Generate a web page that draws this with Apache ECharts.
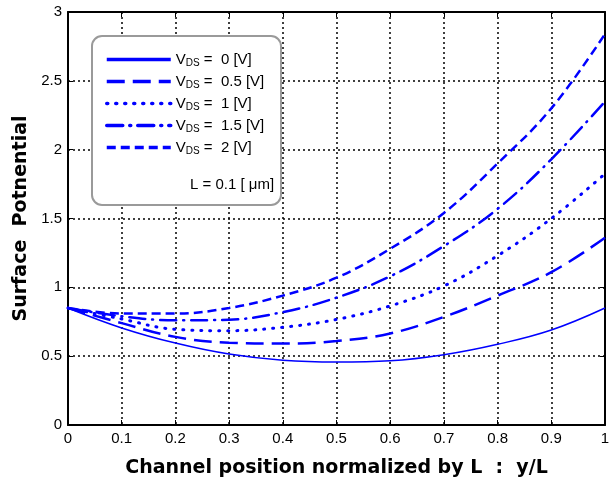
<!DOCTYPE html>
<html>
<head>
<meta charset="utf-8">
<script src="https://cdn.jsdelivr.net/npm/echarts@6/dist/echarts.min.js"></script>
<style>
  html, body { margin: 0; padding: 0; background: #fff; }
  #main { width: 615px; height: 483px; }
</style>
</head>
<body>
<div id="main"></div>
<script>
// channel position y/L
const positions = [0, 0.1, 0.2, 0.3, 0.4, 0.5, 0.6, 0.7, 0.8, 0.9, 1]
// surface potential for each VDS
const vds0 = [0.85, 0.705, 0.595, 0.515, 0.47, 0.457, 0.466, 0.51, 0.586, 0.69, 0.85]
const vds05 = [0.85, 0.74, 0.64, 0.598, 0.592, 0.61, 0.665, 0.785, 0.94, 1.11, 1.36]
const vds1 = [0.85, 0.77, 0.695, 0.685, 0.71, 0.767, 0.865, 1.01, 1.23, 1.5, 1.825]
const vds15 = [0.85, 0.79, 0.76, 0.765, 0.82, 0.925, 1.08, 1.3, 1.57, 1.93, 2.35]
const vds2 = [0.85, 0.81, 0.81, 0.85, 0.94, 1.07, 1.28, 1.54, 1.9, 2.3, 2.84]
const vdsLabels = ['0', '0.5', '1', '1.5', '2']

const chart = echarts.init(document.getElementById('main'))
const font = 'Liberation Sans, Arial, sans-serif'
const blue = '#0000ff'

// line dash per VDS
const styles = [
  { type: 'solid', width: 1.5 },
  { type: [18, 8], width: 2.5 },
  { type: [1, 8], width: 3, cap: 'round' },
  { type: [16, 7, 1, 7], width: 2.5, cap: 'round' },
  { type: [9, 5], width: 2.5 }
]
const allVals = [vds0, vds05, vds1, vds15, vds2]

const seriesArr = allVals.map((vals, i) => {
  return {
    name: 'VDS' + vdsLabels[i],
    type: 'line',
    data: positions.map((p, j) => [p, vals[j]]),
    smooth: 0.4,
    symbol: 'none',
    lineStyle: Object.assign({ color: blue }, styles[i]),
    itemStyle: { color: blue },
    z: 3
  }
})

const axisCommon = {
  axisLine: { show: true, onZero: false, lineStyle: { color: '#000', width: 2 } },
  axisTick: { show: true, inside: true, length: 5, lineStyle: { color: '#000' } }
}
const gridLine = { show: true, lineStyle: { color: '#000', type: [2, 3], width: 1.5 } }
const titleStyle = { color: '#000', fontSize: 19, fontWeight: 900, fontFamily: 'DejaVu Sans' }

const option = {
  animation: false,
  backgroundColor: '#fff',
  grid: { left: 68, right: 10, top: 12, bottom: 58 },
  xAxis: [
    Object.assign({
      type: 'value', min: 0, max: 1, interval: 0.1,
      axisLabel: { color: '#000', fontSize: 15, fontFamily: font, margin: 6 },
      splitLine: gridLine,
      name: 'Channel position normalized by L  :  y/L',
      nameLocation: 'middle', nameGap: 34,
      nameTextStyle: titleStyle
    }, axisCommon),
    Object.assign({
      type: 'value', min: 0, max: 1, interval: 0.1, position: 'top',
      axisLabel: { show: false }, splitLine: { show: false }
    }, axisCommon)
  ],
  yAxis: [
    Object.assign({
      type: 'value', min: 0, max: 3, interval: 0.5,
      axisLabel: { color: '#000', fontSize: 15, fontFamily: font, margin: 6 },
      splitLine: gridLine,
      name: 'Surface  Potnential',
      nameLocation: 'middle', nameGap: 37,
      nameTextStyle: titleStyle
    }, axisCommon),
    Object.assign({
      type: 'value', min: 0, max: 3, interval: 0.5, position: 'right',
      axisLabel: { show: false }, splitLine: { show: false }
    }, axisCommon)
  ],
  legend: {
    left: 100, top: 47,
    orient: 'vertical',
    itemWidth: 64, itemHeight: 14, itemGap: 5.5,
    itemStyle: { color: 'rgba(0,0,0,0)', borderWidth: 0, opacity: 0 },
    lineStyle: { width: 3.5 },
    z: 20,
    data: seriesArr.map(s => s.name),
    formatter: name => {
      const v = name.replace('VDS', '')
      return '{v|V}{s|DS}{v| =  ' + v + ' [V]}'
    },
    textStyle: {
      rich: {
        v: { fontSize: 15, fontFamily: font, color: '#000', lineHeight: 18, verticalAlign: 'middle' },
        s: { fontSize: 10, fontFamily: font, color: '#000', lineHeight: 10, verticalAlign: 'bottom' }
      }
    }
  },
  graphic: [
    {
      type: 'rect', z: 10,
      shape: { x: 92, y: 36, width: 189, height: 169, r: 10 },
      style: { fill: '#fff', stroke: '#9a9a9a', lineWidth: 2 }
    },
    {
      type: 'text', z: 11, left: 190, top: 177,
      style: { text: 'L = 0.1 [ μm]', fontSize: 15, fontFamily: font, fill: '#000' }
    }
  ],
  series: seriesArr
}

chart.setOption(option)
</script>
</body>
</html>
